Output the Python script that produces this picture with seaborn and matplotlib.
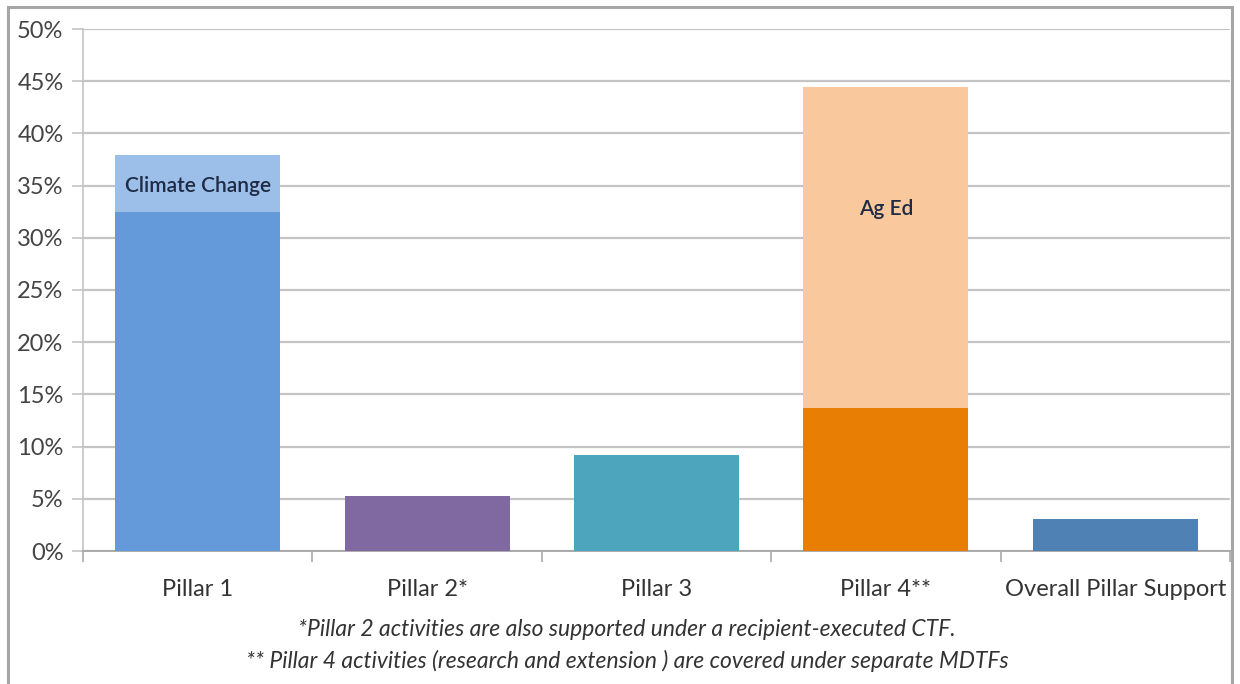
import matplotlib
matplotlib.use("Agg")
import matplotlib.pyplot as plt
import seaborn as sns
import numpy as np
from matplotlib.patches import Rectangle
from matplotlib.ticker import FuncFormatter, MultipleLocator

categories = ["Pillar 1", "Pillar 2*", "Pillar 3", "Pillar 4**", "Overall Pillar Support"]
base_values = [32.5, 5.3, 9.2, 13.7, 3.1]
total_values = [37.9, 0.0, 0.0, 44.4, 0.0]
base_colors = ["#659ADA", "#8068A0", "#4DA5BD", "#E87E04", "#4F81B5"]
top_colors = ["#9BBFE9", "#8068A0", "#4DA5BD", "#F9C89C", "#4F81B5"]
inner_labels = {"Pillar 1": ("Climate Change", 35.0), "Pillar 4**": ("Ag Ed", 32.8)}
footnotes = ["*Pillar 2 activities are also supported under a recipient-executed CTF.",
             "** Pillar 4 activities (research and extension ) are covered under separate MDTFs"]

sns.set_theme(style="white")
plt.rcParams['font.family'] = ['Lato', 'DejaVu Sans']

fig = plt.figure(figsize=(12.4, 6.84), dpi=100)
ax = fig.add_axes([83/1240, 1-551/684, (1230-83)/1240, 522/684])

sns.barplot(x=categories, y=total_values, hue=categories, palette=top_colors,
            legend=False, width=0.72, ax=ax, saturation=1, zorder=2, linewidth=0)
sns.barplot(x=categories, y=base_values, hue=categories, palette=base_colors,
            legend=False, width=0.72, ax=ax, saturation=1, zorder=3, linewidth=0)

for cat, (txt, yv) in inner_labels.items():
    i = categories.index(cat)
    ax.text(i, yv, txt, ha="center", va="center", fontsize=15, fontweight="semibold",
            color="#1F2A44", zorder=5)

ax.set_ylim(0, 50)
ax.set_xlim(-0.5, len(categories) - 0.5)
ax.yaxis.set_major_locator(MultipleLocator(5))
ax.yaxis.set_major_formatter(FuncFormatter(lambda v, p: f"{v:.0f}%"))
ax.grid(axis="y", color="#C4C4C4", linewidth=1.6, zorder=0)
ax.set_axisbelow(True)

ax.set_xticks(np.arange(len(categories)))
ax.set_xticklabels(categories)
ax.set_xticks(np.arange(len(categories) + 1) - 0.5, minor=True)
ax.tick_params(axis="x", which="major", bottom=False, length=0, pad=20, labelsize=17,
               labelcolor="#333333")
ax.tick_params(axis="x", which="minor", bottom=True, length=8, width=1.2, color="#AAAAAA",
               direction="out")
ax.tick_params(axis="y", which="major", left=True, length=8, width=1.2, color="#C4C4C4",
               direction="out", labelsize=17, labelcolor="#444444", pad=6)
ax.set_xlabel("")
ax.set_ylabel("")
for s in ["top", "right"]:
    ax.spines[s].set_visible(False)
ax.spines["left"].set_color("#C4C4C4")
ax.spines["left"].set_linewidth(1.2)
ax.spines["bottom"].set_color("#AAAAAA")
ax.spines["bottom"].set_linewidth(1.4)

fig.text(627/1240, 1-630/684, footnotes[0], ha="center", va="center",
         fontsize=16.5, style="italic", color="#333333")
fig.text(627/1240, 1-661/684, footnotes[1], ha="center", va="center",
         fontsize=16.5, style="italic", color="#333333")

frame = Rectangle((8/1240, -0.05), (1232-8)/1240, 1.05 - 7/684, transform=fig.transFigure,
                  fill=False, edgecolor="#A6A6A6", linewidth=2.2, clip_on=False)
fig.patches.append(frame)

fig.savefig("out.png", dpi=100)
